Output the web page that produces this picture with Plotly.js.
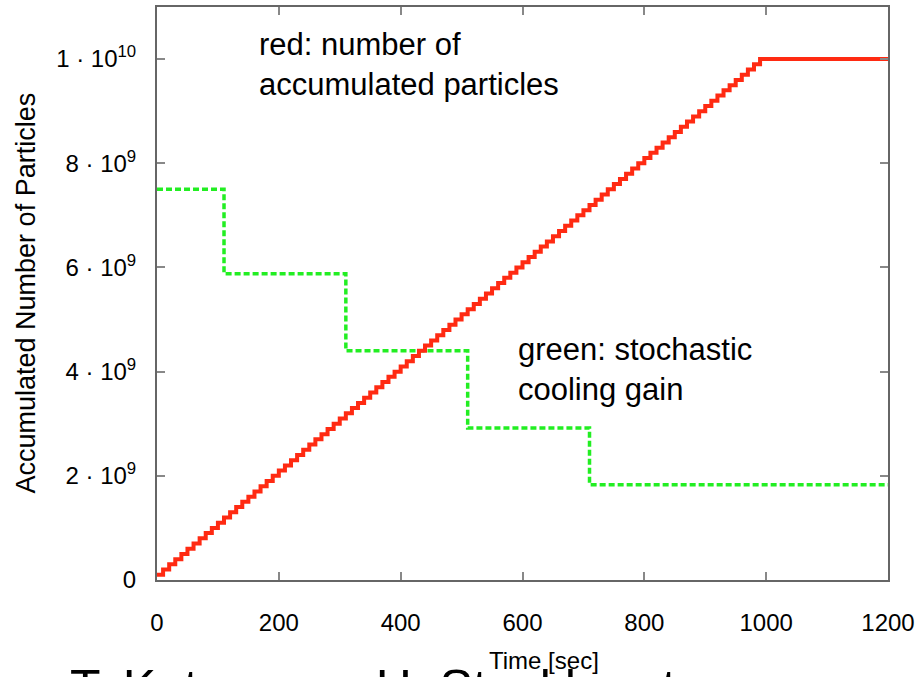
<!DOCTYPE html>
<html>
<head>
<meta charset="utf-8">
<script src="https://cdn.plot.ly/plotly-3.0.1.min.js"></script>
<style>html,body{margin:0;padding:0;background:#fff;}#chart{width:923px;height:677px;}</style>
</head>
<body>
<div id="chart"></div>
<script>
// Red: accumulated particles (units of 1e8), step every 10 s, flat after ~990 s
const redTime = [0,10,20,30,40,50,60,70,80,90,100,110,120,130,140,150,160,170,180,190,
  200,210,220,230,240,250,260,270,280,290,300,310,320,330,340,350,360,370,380,390,
  400,410,420,430,440,450,460,470,480,490,500,510,520,530,540,550,560,570,580,590,
  600,610,620,630,640,650,660,670,680,690,700,710,720,730,740,750,760,770,780,790,
  800,810,820,830,840,850,860,870,880,890,900,910,920,930,940,950,960,970,980,990,1200];
const redValE8 = [1,2,3,4,5,6,7,8,9,10,11,12,13,14,15,16,17,18,19,20,
  21,22,23,24,25,26,27,28,29,30,31,32,33,34,35,36,37,38,39,40,
  41,42,43,44,45,46,47,48,49,50,51,52,53,54,55,56,57,58,59,60,
  61,62,63,64,65,66,67,68,69,70,71,72,73,74,75,76,77,78,79,80,
  81,82,83,84,85,86,87,88,89,90,91,92,93,94,95,96,97,98,99,100,100];
// Green: stochastic cooling gain (plotted on same scale)
const greenTime = [0,110,310,510,710,1200];
const greenVal = [7.5e9,5.88e9,4.4e9,2.92e9,1.83e9,1.83e9];
// Tick labels
const xTicks = [0,200,400,600,800,1000,1200];
const yTicks = [0,2e9,4e9,6e9,8e9,1e10];
const yTickText = ['0','2 · 10<sup>9</sup>','4 · 10<sup>9</sup>','6 · 10<sup>9</sup>','8 · 10<sup>9</sup>','1 · 10<sup>10</sup>'];

const FONT = 'Liberation Sans, Arial, sans-serif';
const traces = [
  {x: greenTime, y: greenVal, mode:'lines', line:{shape:'hv', color:'#22ee22', width:3.5, dash:'6px,3px'}, hoverinfo:'skip'},
  {x: redTime, y: redValE8.map(v => v*1e8), mode:'lines', line:{shape:'hv', color:'#ff2a12', width:4}, hoverinfo:'skip'}
];
const axisCommon = {
  showline:true, linecolor:'#666', linewidth:2, mirror:'ticks',
  ticks:'inside', ticklen:8, tickwidth:2, tickcolor:'#888',
  showgrid:false, zeroline:false, tickfont:{family:FONT, size:24, color:'#000'}
};
const layout = {
  width:923, height:677,
  margin:{l:157, r:35, t:7, b:97},
  paper_bgcolor:'#fff', plot_bgcolor:'#fff',
  showlegend:false,
  font:{family:FONT, color:'#000'},
  xaxis: Object.assign({}, axisCommon, {range:[0,1200], tickmode:'array', tickvals:xTicks, ticktext:xTicks.map(String), ticklabelstandoff:20}),
  yaxis: Object.assign({}, axisCommon, {range:[0,1.1e10], tickmode:'array', tickvals:yTicks, ticktext:yTickText, ticklabelstandoff:14}),
  annotations:[
    {xref:'paper', yref:'paper', x:(257-157)/731, y:(580-25)/573, xanchor:'left', yanchor:'top', align:'left', showarrow:false,
     text:'red: number of<br>accumulated particles', font:{family:FONT, size:31, color:'#000'}},
    {xref:'paper', yref:'paper', x:(516-157)/731, y:(580-330)/573, xanchor:'left', yanchor:'top', align:'left', showarrow:false,
     text:'green: stochastic<br>cooling gain', font:{family:FONT, size:31, color:'#000'}},
    {xref:'paper', yref:'paper', x:(25-157)/731, y:0.5, xanchor:'center', yanchor:'middle', textangle:-90, showarrow:false,
     text:'Accumulated Number of Particles', font:{family:FONT, size:27, color:'#000'}},
    {xref:'paper', yref:'paper', x:(68-157)/731, y:(580-658)/573, xanchor:'left', yanchor:'top', showarrow:false,
     text:'T. Katayama, H. Stockhorst', font:{family:FONT, size:50, color:'#000'}},
    {xref:'paper', yref:'paper', x:(544-157)/731, y:(580-660)/573, xanchor:'center', yanchor:'middle', showarrow:false,
     text:'Time [sec]', font:{family:FONT, size:24, color:'#000'}}
  ]
};
Plotly.newPlot('chart', traces, layout, {staticPlot:true, displayModeBar:false});
</script>
</body>
</html>
